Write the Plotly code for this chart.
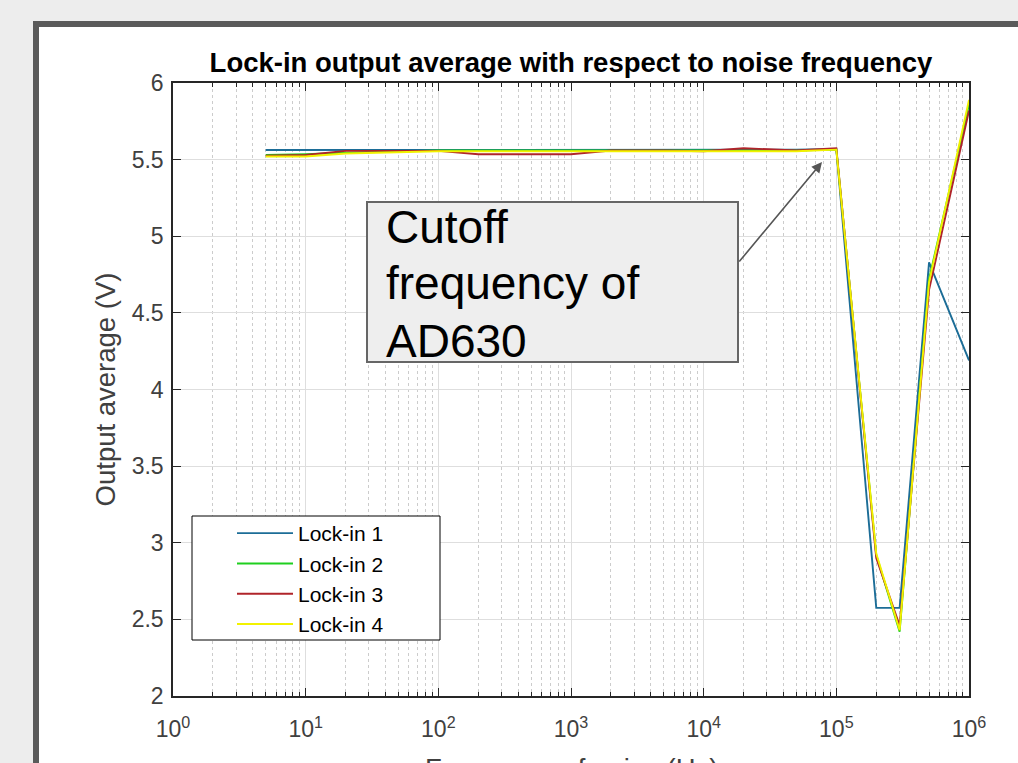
import plotly.graph_objects as go

# ---- data ----
freq = [5, 10, 20, 50, 100, 200, 500, 1000, 2000, 5000, 10000, 20000, 50000,
        100000, 200000, 300000, 500000, 1000000]
lock1 = [5.563, 5.563, 5.563, 5.563, 5.563, 5.563, 5.563, 5.563, 5.563, 5.563,
         5.563, 5.565, 5.565, 5.57, 2.575, 2.575, 4.83, 4.19]
lock2 = [5.53, 5.535, 5.545, 5.555, 5.56, 5.56, 5.56, 5.56, 5.56, 5.56,
         5.56, 5.56, 5.56, 5.565, 2.92, 2.42, 4.72, 5.86]
lock3 = [5.526, 5.53, 5.557, 5.557, 5.557, 5.535, 5.535, 5.535, 5.56, 5.56,
         5.555, 5.574, 5.56, 5.574, 2.90, 2.46, 4.65, 5.82]
lock4 = [5.52, 5.52, 5.54, 5.55, 5.555, 5.555, 5.555, 5.555, 5.555, 5.555,
         5.555, 5.555, 5.555, 5.565, 2.93, 2.43, 4.70, 5.89]
series_names = ["Lock-in 1", "Lock-in 2", "Lock-in 3", "Lock-in 4"]
series_colors = ["#1c6d97", "#1fcf1f", "#b0242a", "#f2f200"]

x_tickvals = [1, 10, 100, 1000, 10000, 100000, 1000000]
x_ticktext = ["10<sup>0</sup>", "10<sup>1</sup>", "10<sup>2</sup>", "10<sup>3</sup>",
              "10<sup>4</sup>", "10<sup>5</sup>", "10<sup>6</sup>"]

title_text = "<b>Lock-in output average with respect to noise frequency</b>"
xlabel = "Frequency of noise (Hz)"
ylabel = "Output average (V)"
note_lines = ["Cutoff", "frequency of", "AD630"]

# ---- geometry ----
W, H = 1018, 763
L, R, T, B = 173, 49, 83, 67
PW, PH = W - L - R, H - T - B


def px(xp):
    return (xp - L) / PW


def py(yp):
    return (H - B - yp) / PH


FONT = "Arial, Liberation Sans, Helvetica, sans-serif"
AX = "#262626"
TXT = "#404040"

fig = go.Figure()
for name, vals, col in zip(series_names, [lock1, lock2, lock3, lock4], series_colors):
    fig.add_trace(go.Scatter(x=freq, y=vals, mode="lines", name=name,
                             line=dict(color=col, width=1.9)))

# outer figure frame
fig.add_shape(type="rect", xref="paper", yref="paper", layer="below",
              x0=px(36), x1=px(1045), y0=py(800), y1=py(24),
              fillcolor="white", line=dict(color="#5a5a5a", width=6))

# legend box
fig.add_shape(type="rect", xref="paper", yref="paper", layer="above",
              x0=px(192), x1=px(440), y0=py(640), y1=py(516),
              fillcolor="white", line=dict(color="black", width=1))

# annotation text box
fig.add_shape(type="rect", xref="paper", yref="paper", layer="above",
              x0=px(367), x1=px(738), y0=py(362), y1=py(202),
              fillcolor="#eeeeee", line=dict(color="#666666", width=2))
for line_txt, yc in zip(note_lines, [227, 283, 341]):
    fig.add_annotation(text=line_txt, xref="paper", yref="paper",
                       x=px(384), y=py(yc), xanchor="left", yanchor="middle",
                       showarrow=False, font=dict(family=FONT, size=46, color="black"))

# arrow
fig.add_annotation(text="", x=4.892, y=5.484, xref="x", yref="y",
                   ax=-84, ay=101, showarrow=True, arrowhead=2, arrowsize=1.3,
                   arrowwidth=1.6, arrowcolor="#555555")

# x-axis label (sits partly below the visible window, as in the reference)
fig.add_annotation(text=xlabel, xref="paper", yref="paper",
                   x=0.5, y=py(751), xanchor="center", yanchor="top",
                   showarrow=False, font=dict(family=FONT, size=27.5, color=TXT))

fig.update_layout(
    width=W, height=H,
    margin=dict(l=L, r=R, t=T, b=B, pad=0, autoexpand=False),
    paper_bgcolor="#ededed",
    plot_bgcolor="white",
    font=dict(family=FONT, color=TXT),
    title=dict(text=title_text, x=0.5, xref="paper", y=1 - 62 / H, yref="container",
               xanchor="center", yanchor="middle",
               font=dict(family=FONT, size=27.5, color="black")),
    showlegend=True,
    legend=dict(x=px(232), y=py(513), xanchor="left", yanchor="top",
                bgcolor="rgba(0,0,0,0)", borderwidth=0,
                font=dict(family=FONT, size=21, color="black"),
                itemwidth=56, tracegroupgap=0),
    xaxis=dict(type="log", range=[0, 6], tickmode="array",
               tickvals=x_tickvals, ticktext=x_ticktext, automargin=False,
               ticks="inside", ticklen=8, tickwidth=1, tickcolor=AX,
               showline=True, linecolor=AX, linewidth=1.5, mirror="ticks",
               showgrid=True, gridcolor="#dedede", gridwidth=1, zeroline=False,
               tickfont=dict(family=FONT, size=23, color=TXT),
               ticklabelstandoff=12,
               minor=dict(dtick="D1", ticks="inside", ticklen=4, tickcolor=AX,
                          showgrid=True, griddash="dot", gridcolor="#cccccc", gridwidth=1)),
    yaxis=dict(range=[2, 6], tick0=2, dtick=0.5, automargin=False,
               ticks="inside", ticklen=8, tickwidth=1, tickcolor=AX,
               showline=True, linecolor=AX, linewidth=1.5, mirror="ticks",
               showgrid=True, gridcolor="#dedede", gridwidth=1, zeroline=False,
               tickfont=dict(family=FONT, size=23, color=TXT),
               ticklabelstandoff=3,
               title=dict(text=ylabel, standoff=8,
                          font=dict(family=FONT, size=27.5, color=TXT))),
)

fig.write_html("out.html",
               config={"displayModeBar": False},
               post_script="document.body.style.margin='0';"
                           "document.body.style.overflow='hidden';")
